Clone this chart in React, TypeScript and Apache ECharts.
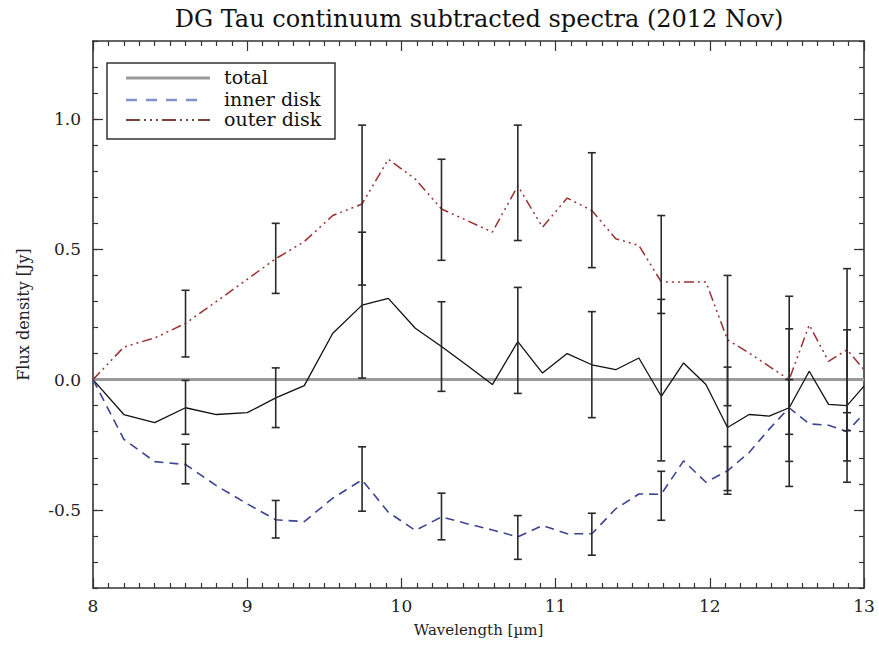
import React, { useEffect, useRef } from "react";
import * as echarts from "echarts";

// Wavelength grid (µm)
const wavelength = [8.0, 8.2, 8.4, 8.6, 8.8, 9.0, 9.185, 9.37, 9.555, 9.745, 9.915, 10.09, 10.26, 10.425, 10.59, 10.755, 10.915, 11.075, 11.235, 11.39, 11.54, 11.685, 11.83, 11.975, 12.115, 12.255, 12.385, 12.515, 12.645, 12.77, 12.89, 13.0];

// Flux density (Jy)
const total = [0, -0.134, -0.165, -0.108, -0.134, -0.127, -0.07, -0.023, 0.178, 0.286, 0.312, 0.197, 0.127, 0.055, -0.019, 0.146, 0.025, 0.1, 0.057, 0.038, 0.083, -0.064, 0.064, -0.019, -0.184, -0.134, -0.14, -0.108, 0.032, -0.095, -0.1, -0.025];
const innerDisk = [0, -0.229, -0.315, -0.326, -0.407, -0.477, -0.538, -0.545, -0.455, -0.385, -0.509, -0.579, -0.527, -0.553, -0.577, -0.604, -0.56, -0.592, -0.592, -0.496, -0.439, -0.44, -0.312, -0.394, -0.35, -0.28, -0.19, -0.108, -0.17, -0.175, -0.2, -0.13];
const outerDisk = [0, 0.125, 0.16, 0.216, 0.3, 0.385, 0.464, 0.53, 0.63, 0.674, 0.846, 0.77, 0.655, 0.611, 0.566, 0.744, 0.585, 0.697, 0.649, 0.541, 0.515, 0.375, 0.375, 0.375, 0.153, 0.102, 0.051, 0.0, 0.21, 0.07, 0.115, 0.038];

// Error bars (every third point)
const errWavelength = [8.6, 9.185, 9.745, 10.26, 10.755, 11.235, 11.685, 12.115, 12.515, 12.89];
const totalLo = [-0.21, -0.184, 0.006, -0.045, -0.053, -0.146, -0.312, -0.426, -0.41, -0.394];
const totalHi = [-0.003, 0.045, 0.566, 0.299, 0.354, 0.261, 0.308, 0.048, 0.195, 0.191];
const innerLo = [-0.4, -0.608, -0.505, -0.615, -0.69, -0.674, -0.54, -0.44, -0.21, -0.312];
const innerHi = [-0.248, -0.464, -0.258, -0.436, -0.522, -0.513, -0.352, -0.257, 0.0, -0.127];
const outerLo = [0.087, 0.331, 0.363, 0.458, 0.534, 0.43, 0.254, -0.1, -0.314, -0.196];
const outerHi = [0.343, 0.6, 0.977, 0.846, 0.977, 0.871, 0.63, 0.4, 0.32, 0.426];

// Axis ticks
const yMajorTicks = [-0.5, 0, 0.5, 1.0];
const seriesNames = ["total", "inner disk", "outer disk"];

const FONT = "DejaVu Serif";
const AXIS_COLOR = "#333";
const TOTAL_COLOR = "#111";
const INNER_COLOR = "#3d4592";
const OUTER_COLOR = "#9a3232";

export default function App() {
  const ref = useRef<HTMLDivElement>(null);

  useEffect(() => {
    const chart = echarts.init(ref.current!, null, { renderer: "svg" });

    const pairs = (ys: number[]) => wavelength.map((w, i) => [w, ys[i]]);
    const errData = (lo: number[], hi: number[]) => errWavelength.map((w, i) => [w, lo[i], hi[i]]);

    const renderErr = (_params: any, api: any) => {
      const x = api.value(0);
      const lo = api.value(1);
      const hi = api.value(2);
      const top = api.coord([x, hi]);
      const bot = api.coord([x, lo]);
      const cap = 4;
      const style = { stroke: "#2a2a2a", lineWidth: 1.6 };
      return {
        type: "group",
        children: [
          { type: "line", shape: { x1: top[0], y1: top[1], x2: bot[0], y2: bot[1] }, style },
          { type: "line", shape: { x1: top[0] - cap, y1: top[1], x2: top[0] + cap, y2: top[1] }, style },
          { type: "line", shape: { x1: bot[0] - cap, y1: bot[1], x2: bot[0] + cap, y2: bot[1] }, style },
        ],
      };
    };

    const axisLineStyle = { color: AXIS_COLOR, width: 1.6 };
    const tickStyle = { color: AXIS_COLOR, width: 1.2 };
    const labelStyle = { fontFamily: FONT, fontSize: 17, color: "#222" };

    const xCommon = {
      type: "value",
      min: 8,
      max: 13,
      interval: 1,
      axisLine: { show: true, onZero: false, lineStyle: axisLineStyle },
      axisTick: { show: true, inside: true, length: 10, lineStyle: tickStyle },
      minorTick: { show: true, splitNumber: 10, length: 5, lineStyle: tickStyle },
      splitLine: { show: false },
      minorSplitLine: { show: false },
    };

    const yMinor = {
      type: "value",
      min: -0.8,
      max: 1.3,
      interval: 0.1,
      axisLine: { show: true, onZero: false, lineStyle: axisLineStyle },
      axisTick: { show: true, inside: true, length: 5, lineStyle: tickStyle },
      splitLine: { show: false },
    };
    const yMajor = {
      type: "value",
      min: -0.8,
      max: 1.3,
      axisLine: { show: false },
      axisTick: { show: true, inside: true, length: 10, lineStyle: tickStyle, customValues: yMajorTicks },
      axisLabel: { show: false },
      splitLine: { show: false },
    };

    const legendRows = [
      { y: 78, stroke: "#9a9a9a", lineWidth: 3, lineDash: null as any, x2: 210 },
      { y: 100, stroke: "#8393c9", lineWidth: 2.5, lineDash: [11, 9], x2: 206 },
      { y: 120, stroke: "#7a4438", lineWidth: 2, lineDash: [14, 4, 2, 4, 2, 4, 2, 4], x2: 210 },
    ];

    const option: any = {
      animation: false,
      backgroundColor: "#fff",
      grid: { left: 93, right: 15, top: 41, bottom: 57, containLabel: false },
      xAxis: [
        {
          ...xCommon,
          position: "bottom",
          axisLabel: { ...labelStyle, margin: 9 },
          name: "Wavelength [µm]",
          nameLocation: "middle",
          nameGap: 34,
          nameTextStyle: { fontFamily: FONT, fontSize: 15, color: "#222" },
        },
        { ...xCommon, position: "top", axisLabel: { show: false } },
      ],
      yAxis: [
        {
          ...yMinor,
          position: "left",
          axisLabel: {
            ...labelStyle,
            margin: 12,
            formatter: (v: number) => {
              const r = Math.round(v * 2) / 2;
              return Math.abs(v - r) < 1e-6 && r > -0.8 && r < 1.3 ? r.toFixed(1) : "";
            },
          },
          name: "Flux density [Jy]",
          nameLocation: "middle",
          nameGap: 62,
          nameTextStyle: { fontFamily: FONT, fontSize: 16, color: "#222" },
        },
        { ...yMajor, position: "left", offset: 0 },
        { ...yMinor, position: "right", offset: 0, axisLabel: { show: false } },
        { ...yMajor, position: "right", offset: 0 },
      ],
      series: [
        {
          name: "zero",
          type: "line",
          data: [[8, 0], [13, 0]],
          symbol: "none",
          silent: true,
          lineStyle: { color: "#9a9a9a", width: 3 },
          z: 1,
        },
        {
          name: "total",
          type: "line",
          data: pairs(total),
          symbol: "none",
          lineStyle: { color: TOTAL_COLOR, width: 1.3 },
          z: 3,
        },
        {
          name: "inner disk",
          type: "line",
          data: pairs(innerDisk),
          symbol: "none",
          lineStyle: { color: INNER_COLOR, width: 1.6, type: [9, 6] },
          z: 3,
        },
        {
          name: "outer disk",
          type: "line",
          data: pairs(outerDisk),
          symbol: "none",
          lineStyle: { color: OUTER_COLOR, width: 1.5, type: [10, 4, 2, 4, 2, 4, 2, 4] },
          z: 3,
        },
        { name: "total error", type: "custom", renderItem: renderErr, data: errData(totalLo, totalHi), encode: { x: 0, y: [1, 2] }, z: 4 },
        { name: "inner error", type: "custom", renderItem: renderErr, data: errData(innerLo, innerHi), encode: { x: 0, y: [1, 2] }, z: 4 },
        { name: "outer error", type: "custom", renderItem: renderErr, data: errData(outerLo, outerHi), encode: { x: 0, y: [1, 2] }, z: 4 },
      ],
      graphic: [
        {
          type: "text",
          x: 479,
          y: 19,
          style: {
            text: "DG Tau continuum subtracted spectra (2012 Nov)",
            fontFamily: FONT,
            fontSize: 24,
            fill: "#111",
            textAlign: "center",
            textVerticalAlign: "middle",
          },
        },
        {
          type: "group",
          children: [
            {
              type: "rect",
              shape: { x: 107, y: 63, width: 228, height: 76 },
              style: { fill: "#fff", stroke: AXIS_COLOR, lineWidth: 1.5 },
              z: 10,
            },
            ...legendRows.map((r) => ({
              type: "line",
              shape: { x1: 126, y1: r.y, x2: r.x2, y2: r.y },
              style: { stroke: r.stroke, lineWidth: r.lineWidth, lineDash: r.lineDash },
              z: 11,
            })),
            ...legendRows.map((r, i) => ({
              type: "text",
              x: 224,
              y: r.y - 1,
              style: {
                text: seriesNames[i],
                fontFamily: FONT,
                fontSize: 19,
                fill: "#111",
                textVerticalAlign: "middle",
              },
              z: 11,
            })),
          ],
        },
      ],
    };

    chart.setOption(option);
    return () => chart.dispose();
  }, []);

  return (
    <div
      ref={ref}
      style={{ position: "fixed", left: 0, top: 0, width: 879, height: 645, background: "#fff" }}
    />
  );
}
